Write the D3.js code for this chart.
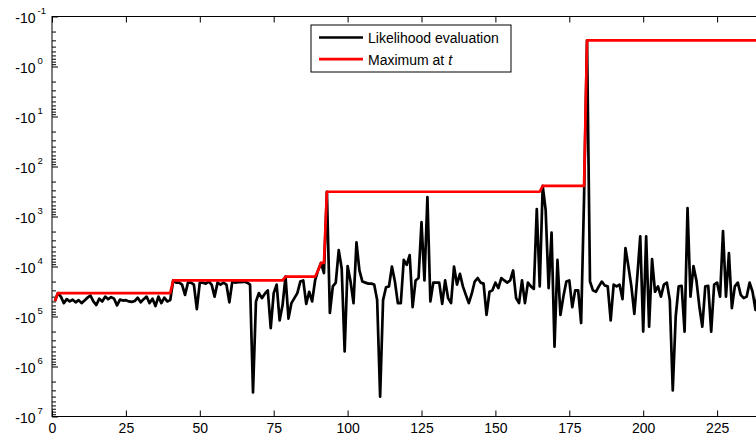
<!DOCTYPE html>
<html>
<head>
<meta charset="utf-8">
<script src="https://cdn.jsdelivr.net/npm/d3@7"></script>
<style>
  body { margin: 0; background: #fff; }
  svg { display: block; font-family: "Liberation Sans", Arial, sans-serif; }
</style>
</head>
<body>
<div id="chart"></div>
<script>
// likelihood evaluated at t = 1, 2, 3, ...
const likelihood = [
  -4.9e4, -3.4e4, -4.0e4, -5.4e4, -4.5e4, -5.0e4, -4.6e4, -5.2e4, -4.7e4, -5.4e4,
  -4.8e4, -4.2e4, -3.8e4, -5.0e4, -5.9e4, -4.4e4, -5.0e4, -4.0e4, -4.5e4, -4.1e4,
  -4.4e4, -6.0e4, -4.6e4, -4.8e4, -4.7e4, -5.0e4, -5.1e4, -4.9e4, -4.2e4, -5.2e4,
  -4.5e4, -4.0e4, -5.4e4, -4.4e4, -6.2e4, -4.0e4, -5.4e4, -4.2e4, -5.0e4, -4.7e4,
  -1.9e4, -2.1e4, -2.1e4, -2.3e4, -3.7e4, -2.1e4, -2.1e4, -2.3e4, -7.1e4, -2.1e4,
  -2.1e4, -2.2e4, -2.0e4, -2.3e4, -4.0e4, -2.1e4, -2.3e4, -2.1e4, -2.3e4, -5.2e4,
  -2.0e4, -2.1e4, -2.05e4, -2.05e4, -2.0e4, -2.1e4, -2.3e4, -3.3e6, -5.0e4, -3.4e4,
  -4.3e4, -3.5e4, -3.0e4, -1.7e5, -3.4e4, -2.3e4, -1.2e5, -5.9e4, -1.6e4, -1.1e5,
  -5.4e4, -4.3e4, -3.4e4, -2.0e4, -1.9e4, -5.6e4, -3.2e4, -5.0e4, -1.9e4, -1.2e4,
  -8.5e3, -1.35e4, -3.2e2, -8.5e4, -2.5e4, -2.1e4, -4.7e3, -1.1e4, -5.0e5, -9.8e3,
  -2.0e4, -5.4e4, -3.3e3, -1.2e4, -2.0e4, -2.1e4, -2.2e4, -2.2e4, -2.3e4, -4.7e4,
  -4.0e6, -4.7e4, -2.6e4, -2.5e4, -1.0e4, -2.0e4, -5.4e4, -5.4e4, -7.4e3, -9.3e3,
  -5.9e3, -6.5e4, -1.9e4, -1.7e4, -1.3e3, -1.9e4, -4.1e2, -5.0e4, -2.1e4, -2.1e4,
  -2.1e4, -5.6e4, -1.9e4, -4.3e4, -5.4e4, -1.0e4, -2.3e4, -1.4e4, -2.5e4, -3.7e4,
  -5.4e4, -3.5e4, -2.0e4, -1.7e4, -2.1e4, -2.2e4, -9.3e4, -3.2e4, -3.0e4, -2.1e4,
  -2.7e4, -1.7e4, -1.9e4, -2.1e4, -1.9e4, -1.2e4, -4.3e4, -5.4e4, -1.9e4, -5.4e4,
  -2.1e4, -2.5e4, -2.8e4, -7.1e2, -2.5e4, -2.45e2, -7.4e2, -2.7e4, -2.1e3, -4.0e5,
  -7.4e3, -9.3e4, -4.0e4, -2.0e4, -1.9e4, -6.5e4, -3.0e4, -3.0e4, -1.35e5, -4.0e2,
  -0.30, -2.0e4, -3.0e4, -3.2e4, -2.5e4, -2.0e4, -2.4e4, -2.5e4, -1.2e5, -2.3e4,
  -2.5e4, -2.3e4, -4.5e4, -4.3e3, -1.0e4, -2.5e4, -8.9e4, -1.6e4, -2.5e3, -2.0e5,
  -2.5e3, -1.6e5, -7.1e3, -3.2e4, -2.5e4, -4.0e4, -2.3e4, -2.1e4, -4.7e4, -3.0e6,
  -1.0e5, -2.5e4, -2.45e4, -2.0e5, -6.8e2, -4.0e4, -9.8e3, -1.9e4, -6.3e4, -1.6e5,
  -2.5e4, -2.45e4, -2.0e5, -2.3e4, -2.1e4, -4.0e4, -1.95e3, -4.0e4, -5.4e3, -6.8e4,
  -2.5e4, -2.1e4, -3.7e4, -4.3e4, -4.0e4, -2.1e4, -3.2e4, -7.4e4, -2.5e4
];

const xTicks = [0, 25, 50, 75, 100, 125, 150, 175, 200, 225];
const yExponents = [-1, 0, 1, 2, 3, 4, 5, 6, 7];
const legendNames = ["Likelihood evaluation", "Maximum at "];
const colors = ["#000000", "#ff0000"];

const W = 756, H = 436;
const plotLeft = 52, plotTop = 16.5, plotBottom = 416.5;

// running maximum of the evaluations
let best = -Infinity;
const maxAt = likelihood.map(v => (best = Math.max(best, v)));

const svg = d3.select("#chart").append("svg")
    .attr("width", W)
    .attr("height", H);

const x = d3.scaleLinear().domain([0, 250]).range([plotLeft, plotLeft + 250 * 2.956]);
const y = d3.scaleLog().domain([-1e-1, -1e7]).range([plotTop, plotBottom]);

// frame
svg.append("rect")
   .attr("x", x(0)).attr("y", plotTop)
   .attr("width", x(250) - x(0)).attr("height", plotBottom - plotTop)
   .attr("fill", "none")
   .attr("stroke", "#000")
   .attr("stroke-width", 1);

// x axes (bottom with labels, top ticks only)
const xb = svg.append("g")
   .attr("transform", `translate(0,${plotBottom})`)
   .call(d3.axisBottom(x).tickValues(xTicks).tickSize(-6).tickPadding(7).tickFormat(d3.format("d")));
const xt = svg.append("g")
   .attr("transform", `translate(0,${plotTop})`)
   .call(d3.axisTop(x).tickValues(xTicks).tickSize(-6).tickFormat(""));
[xb, xt].forEach(g => {
  g.select(".domain").remove();
  g.selectAll("line").attr("stroke", "#000");
  g.selectAll("text").attr("font-size", 14).attr("fill", "#000")
   .attr("font-family", "Liberation Sans, Arial, sans-serif");
});

// y axis: minor and major ticks
const allTicks = y.ticks();
const isMajor = v => Math.abs(Math.log10(-v) - Math.round(Math.log10(-v))) < 1e-9;
const ya = svg.append("g")
   .attr("transform", `translate(${plotLeft},0)`)
   .call(d3.axisLeft(y).tickValues(allTicks.filter(v => !isMajor(v))).tickSize(-4).tickFormat(""));
const yb = svg.append("g")
   .attr("transform", `translate(${plotLeft},0)`)
   .call(d3.axisLeft(y).tickValues(yExponents.map(e => -Math.pow(10, e))).tickSize(-6).tickFormat(""));
[ya, yb].forEach(g => {
  g.select(".domain").remove();
  g.selectAll("line").attr("stroke", "#000");
});

const yl = svg.append("g");
yExponents.forEach(e => {
  const py = y(-Math.pow(10, e));
  yl.append("text")
    .attr("x", 35.5).attr("y", py + 6)
    .attr("text-anchor", "end")
    .attr("font-size", 14)
    .text("-10");
  yl.append("text")
    .attr("x", 37.5).attr("y", py - 3)
    .attr("font-size", 9.5)
    .text(String(e));
});

// lines
const line = d3.line()
    .x((d, i) => x(i + 1))
    .y(d => y(d));

const plot = svg.append("g");
plot.append("path")
    .datum(likelihood)
    .attr("d", line)
    .attr("fill", "none")
    .attr("stroke", colors[0])
    .attr("stroke-width", 2.7)
    .attr("stroke-linejoin", "round");
plot.append("path")
    .datum(maxAt)
    .attr("d", line)
    .attr("fill", "none")
    .attr("stroke", colors[1])
    .attr("stroke-width", 2.7)
    .attr("stroke-linejoin", "round");

// legend
const lg = svg.append("g").attr("transform", "translate(311,25)");
lg.append("rect")
  .attr("width", 200).attr("height", 47)
  .attr("fill", "#fff").attr("stroke", "#000").attr("stroke-width", 1);
legendNames.forEach((name, i) => {
  const ly = 12.5 + i * 21.7;
  lg.append("line")
    .attr("x1", 8).attr("x2", 52).attr("y1", ly).attr("y2", ly)
    .attr("stroke", colors[i]).attr("stroke-width", 2.7);
  const t = lg.append("text")
    .attr("x", 57).attr("y", ly + 5.5)
    .attr("font-size", 14)
    .text(name);
  if (i === 1) t.append("tspan").attr("font-style", "italic").text("t");
});
</script>
</body>
</html>
